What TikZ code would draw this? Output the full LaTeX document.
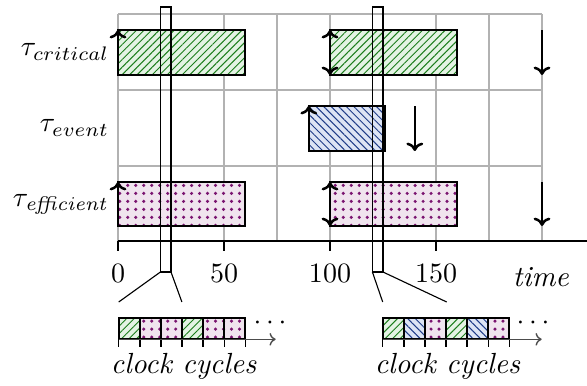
\documentclass[tikz,border=0pt]{standalone}
\usetikzlibrary{patterns,patterns.meta,arrows.meta}
\definecolor{cgreenfill}{HTML}{E4F3E4}
\definecolor{cgreenline}{HTML}{1C7D1C}
\definecolor{cbluefill}{HTML}{DDE4F4}
\definecolor{cblueline}{HTML}{1F3C88}
\definecolor{cdotfill}{HTML}{F0E4EE}
\definecolor{cdotcol}{HTML}{7A1470}
\begin{document}
\begin{tikzpicture}[x=0.357pt,y=-0.357pt,
  every node/.style={font=\fontsize{10.4}{12.5}\selectfont},
  gridline/.style={gray!60,line width=0.4pt},
  critbox/.style={draw=black,line width=0.6pt,preaction={fill=cgreenfill},pattern={Lines[angle=45,distance=1.9pt,line width=0.35pt]},pattern color=cgreenline},
  evtbox/.style={draw=black,line width=0.6pt,preaction={fill=cbluefill},pattern={Lines[angle=-45,distance=1.9pt,line width=0.35pt]},pattern color=cblueline},
  effbox/.style={draw=black,line width=0.6pt,preaction={fill=cdotfill},pattern={Dots[distance=2.85pt,radius=0.62pt]},pattern color=cdotcol},
  sigup/.style={line width=0.9pt,-{To[length=3pt,width=6pt]}},
  sigboth/.style={line width=0.9pt,{To[length=3pt,width=6pt]}-{To[length=3pt,width=6pt]}},
  zoomrect/.style={draw=black,line width=0.4pt},
  zoomline/.style={black,line width=0.4pt},
  tickline/.style={black,line width=0.5pt},
  cyclearrow/.style={black!70,line width=0.5pt,-{To[length=2.2pt,width=4.5pt]}}
]
\useasboundingbox (0,0) rectangle (587,385);

% grid
\foreach \gx in {118,171,224,277,330,383,436,489,542}
  \draw[gridline] (\gx,14) -- (\gx,241);
\foreach \gy in {14,90,166}
  \draw[gridline] (118,\gy) -- (542,\gy);

% time axis
\coordinate (axL) at (118,241);
\coordinate (axR) at (587,241);
\draw[black,line width=0.6pt] (axL) -- (axR);
\foreach \tx in {118,224,330,436}
  \draw[tickline] (\tx,241) -- (\tx,251);
\node (n0) at (118,273) {$0$};
\node (n50) at (224,273) {$50$};
\node (n100) at (330,273) {$100$};
\node (n150) at (436,273) {$150$};
\node[anchor=base] (ltime) at (541,286) {\textit{time}};

% row labels
\node[anchor=east] (lcrit) at (119,52) {$\tau_{critical}$};
\node[anchor=east] (levt) at (119,128) {$\tau_{event}$};
\node[anchor=east] (leff) at (119,204) {$\tau_{\mathit{efficient}}$};

% task boxes
\draw[critbox] (118,30) rectangle (245.2,75);
\draw[critbox] (330,30) rectangle (457.2,75);
\draw[evtbox] (308.8,106) rectangle (385.1,151);
\draw[effbox] (118,182) rectangle (245.2,226);
\draw[effbox] (330,182) rectangle (457.2,226);

% release / deadline arrows
\draw[sigup] (118,75) -- (118,30);
\draw[sigboth] (330,30) -- (330,75);
\draw[sigup] (542,30) -- (542,75);
\draw[sigup] (308.8,151) -- (308.8,106);
\draw[sigup] (414.8,106) -- (414.8,151);
\draw[sigup] (118,226) -- (118,182);
\draw[sigboth] (330,182) -- (330,226);
\draw[sigup] (542,182) -- (542,226);

% zoom windows
\draw[zoomrect] (160.4,7) rectangle (171,272);
\draw[zoomrect] (372.4,7) rectangle (383,272);
\coordinate (zaL) at (160.4,272);
\coordinate (zaR) at (171,272);
\coordinate (zbL) at (372.4,272);
\coordinate (zbR) at (383,272);
\coordinate (saL) at (118.7,302);
\coordinate (saR) at (181.9,302);
\coordinate (sbL) at (382.7,302);
\coordinate (sbR) at (446.7,302);
\draw[zoomline] (zaL) -- (saL);
\draw[zoomline] (zaR) -- (saR);
\draw[zoomline] (zbL) -- (sbL);
\draw[zoomline] (zbR) -- (sbR);

% clock cycle strip 1
\draw[critbox] (118.7,318) rectangle (139.8,339.3);
\draw[effbox] (139.8,318) rectangle (160.9,339.3);
\draw[effbox] (160.9,318) rectangle (182.0,339.3);
\draw[critbox] (182.0,318) rectangle (203.1,339.3);
\draw[effbox] (203.1,318) rectangle (224.2,339.3);
\draw[effbox] (224.2,318) rectangle (245.3,339.3);
\foreach \i in {0,...,6}
  \draw[tickline] ({118.7+21.1*\i},339.3) -- ++(0,8);
\coordinate (caL) at (118.7,339.3);
\coordinate (caR) at (275.7,339.3);
\draw[cyclearrow] (caL) -- (caR);
\node (dotsa) at (270,323) {$\cdots$};
\node[anchor=base] (cca) at (183.7,373) {\textit{clock cycles}};

% clock cycle strip 2
\draw[critbox] (382.7,318) rectangle (403.8,339.3);
\draw[evtbox] (403.8,318) rectangle (424.9,339.3);
\draw[effbox] (424.9,318) rectangle (446.0,339.3);
\draw[critbox] (446.0,318) rectangle (467.1,339.3);
\draw[evtbox] (467.1,318) rectangle (488.2,339.3);
\draw[effbox] (488.2,318) rectangle (509.3,339.3);
\foreach \i in {0,...,6}
  \draw[tickline] ({382.7+21.1*\i},339.3) -- ++(0,8);
\coordinate (cbL) at (382.7,339.3);
\coordinate (cbR) at (541.7,339.3);
\draw[cyclearrow] (cbL) -- (cbR);
\node (dotsb) at (533,323) {$\cdots$};
\node[anchor=base] (ccb) at (447.5,373) {\textit{clock cycles}};
\end{tikzpicture}
\end{document}
